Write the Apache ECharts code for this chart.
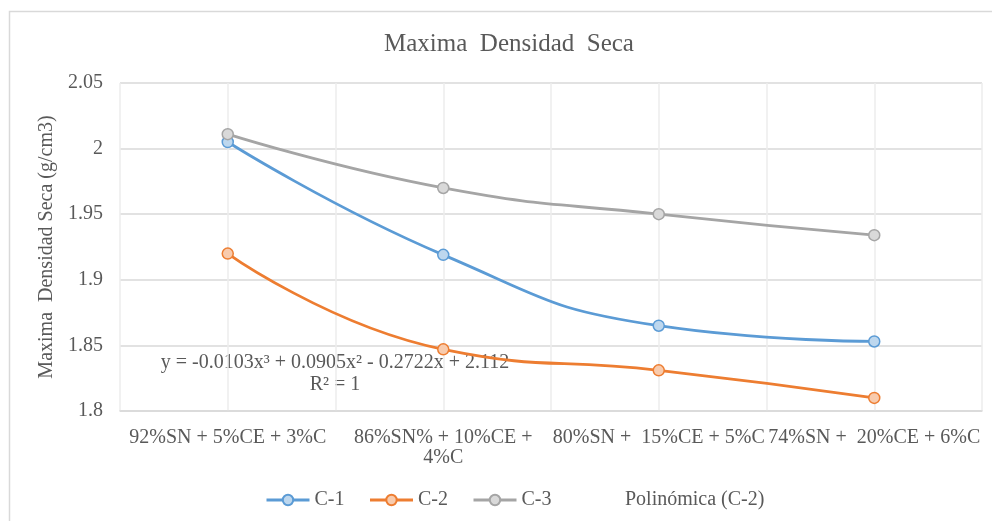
<!DOCTYPE html>
<html>
<head>
<meta charset="utf-8">
<script src="https://cdn.jsdelivr.net/npm/echarts@6/dist/echarts.min.js"></script>
<style>
  html, body { margin: 0; padding: 0; background: #ffffff; }
  #chart { width: 992px; height: 521px; }
</style>
</head>
<body>
<div id="chart"></div>
<script>
// Mixture labels (one per test group)
const categories = [
  '92%SN + 5%CE + 3%C',
  '86%SN% + 10%CE +\n4%C',
  '80%SN +  15%CE + 5%C',
  '74%SN +  20%CE + 6%C'
];

// Maximum dry density (g/cm3) per mixture
const c1 = [2.005, 1.919, 1.865, 1.853];
const c2 = [1.920, 1.847, 1.831, 1.810];
const c3 = [2.011, 1.970, 1.950, 1.934];
// Cubic trendline of C-2, evaluated at each mixture
const trendC2 = [1.920, 1.847, 1.831, 1.810];

const seriesNames = ['C-1', 'C-2', 'C-3', 'Polinómica (C-2)'];
const lineColors = ['#5b9bd5', '#ed7d31', '#a5a5a5'];
const markerFills = ['#bdd7ee', '#f8cbad', '#d9d9d9'];

const yMin = 1.8, yMax = 2.05, yStep = 0.05;

const equationText = 'y = -0.0103x³ + 0.0905x² - 0.2722x + 2.112';
const r2Text = 'R² = 1';

const FONT = "'Liberation Serif', 'Times New Roman', serif";
const TEXT = '#595959';

const toPoints = arr => arr.map((v, i) => [i, v]);

function lineSeries(name, values, k) {
  return {
    name: name,
    type: 'line',
    data: toPoints(values),
    smooth: 0.5,
    symbol: 'circle',
    symbolSize: 11,
    lineStyle: { color: lineColors[k], width: 2.8 },
    itemStyle: { color: markerFills[k], borderColor: lineColors[k], borderWidth: 1.5 },
    emphasis: { disabled: true },
    z: 3
  };
}

const chart = echarts.init(document.getElementById('chart'), null, { renderer: 'canvas' });

chart.setOption({
  animation: false,
  backgroundColor: '#ffffff',
  textStyle: { fontFamily: FONT },
  grid: { left: 120, right: 10, top: 83, bottom: 110, containLabel: false },
  xAxis: {
    type: 'value',
    min: -0.5,
    max: 3.5,
    interval: 0.5,
    axisLine: { show: true, lineStyle: { color: '#d9d9d9', width: 1.5 } },
    axisTick: { show: false },
    splitLine: { show: true, lineStyle: { color: '#ececec', width: 1.5 } },
    axisLabel: {
      color: TEXT,
      fontFamily: FONT,
      fontSize: 20,
      margin: 17,
      lineHeight: 20,
      align: 'center',
      showMinLabel: true,
      showMaxLabel: true,
      formatter: function (v) {
        const r = Math.round(v);
        return Math.abs(v - r) < 1e-6 && r >= 0 && r < categories.length ? categories[r] : '';
      }
    }
  },
  yAxis: {
    type: 'value',
    min: yMin,
    max: yMax,
    interval: yStep,
    name: 'Maxima  Densidad Seca (g/cm3)',
    nameLocation: 'middle',
    nameGap: 63,
    nameTextStyle: { color: TEXT, fontFamily: FONT, fontSize: 20 },
    axisLine: { show: false },
    axisTick: { show: false },
    splitLine: { show: true, lineStyle: { color: '#d9d9d9', width: 1.5 } },
    axisLabel: {
      color: TEXT,
      fontFamily: FONT,
      fontSize: 20,
      margin: 17,
      formatter: v => String(parseFloat(v.toFixed(2)))
    }
  },
  legend: {
    left: 260,
    top: 485,
    itemWidth: 43,
    itemHeight: 13,
    itemGap: 24,
    lineStyle: { width: 3 },
    textStyle: { color: TEXT, fontFamily: FONT, fontSize: 20 },
    data: seriesNames
  },
  series: [
    lineSeries(seriesNames[0], c1, 0),
    lineSeries(seriesNames[1], c2, 1),
    lineSeries(seriesNames[2], c3, 2),
    {
      name: seriesNames[3],
      type: 'line',
      data: toPoints(trendC2),
      smooth: 0.5,
      symbol: 'none',
      lineStyle: { color: '#ed7d31', width: 2, opacity: 0 },
      itemStyle: { color: '#ed7d31', opacity: 0 },
      emphasis: { disabled: true },
      z: 1
    }
  ],
  graphic: [
    {
      type: 'rect',
      shape: { x: 9.5, y: 11.5, width: 1000, height: 600 },
      style: { fill: 'none', stroke: '#d9d9d9', lineWidth: 1.5 },
      silent: true,
      z: -10
    },
    {
      type: 'text',
      x: 509, y: 44,
      style: {
        text: 'Maxima  Densidad  Seca',
        fill: TEXT,
        font: "25px " + FONT,
        align: 'center',
        verticalAlign: 'middle'
      },
      silent: true
    },
    {
      type: 'text',
      x: 335, y: 363,
      style: {
        text: equationText,
        fill: TEXT,
        font: "20px " + FONT,
        align: 'center',
        verticalAlign: 'middle'
      },
      silent: true
    },
    {
      type: 'text',
      x: 335, y: 385,
      style: {
        text: r2Text,
        fill: TEXT,
        font: "20px " + FONT,
        align: 'center',
        verticalAlign: 'middle'
      },
      silent: true
    }
  ]
});
</script>
</body>
</html>
